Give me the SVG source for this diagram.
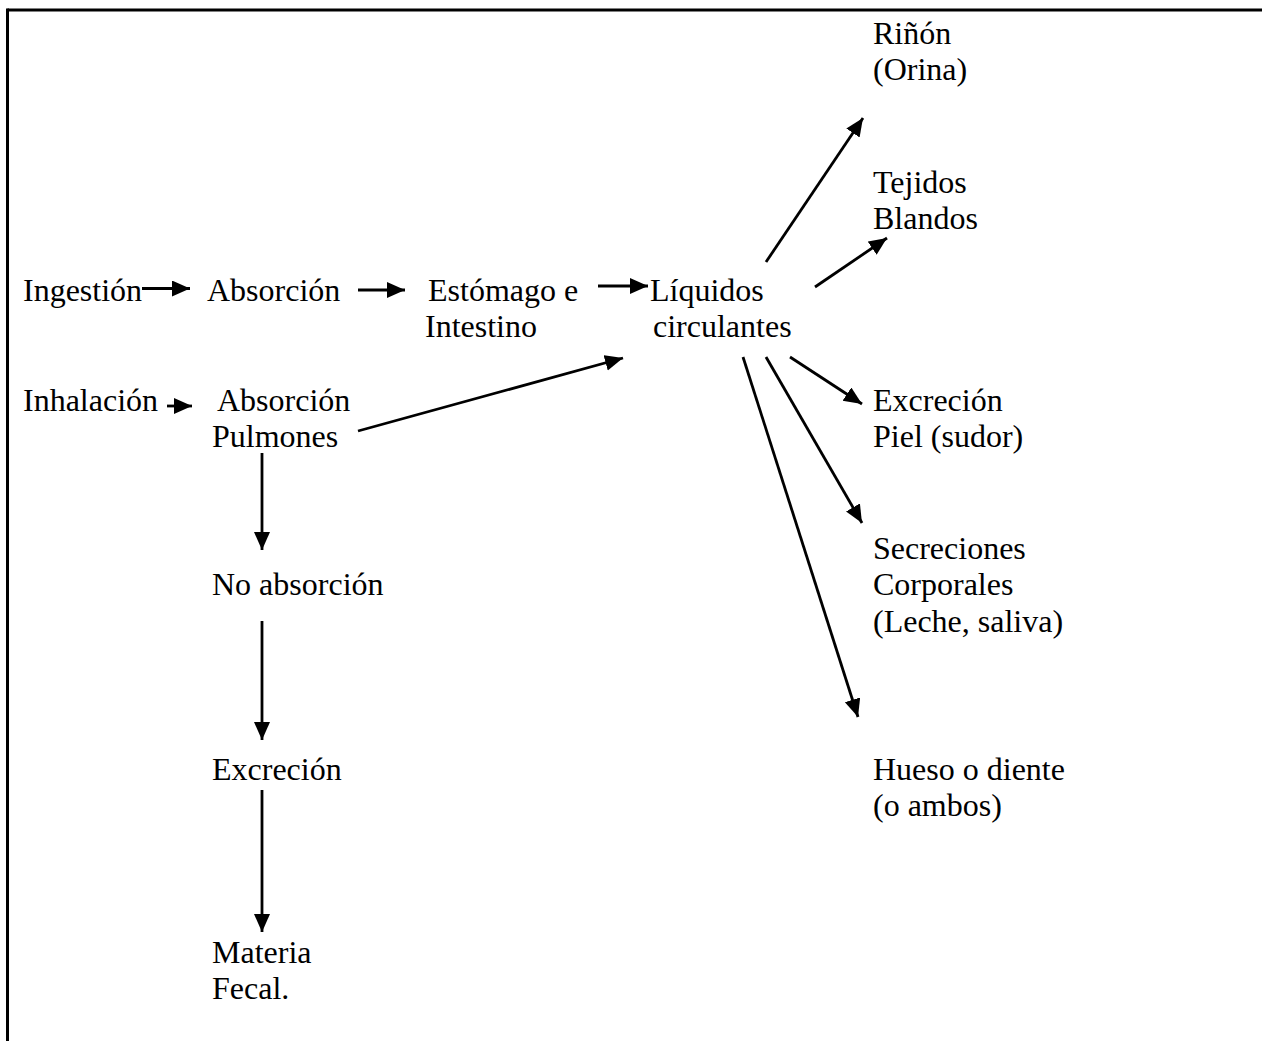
<svg xmlns="http://www.w3.org/2000/svg" width="1262" height="1041" viewBox="0 0 1262 1041">
<style>
text{font-family:"Liberation Serif","Times New Roman",serif;font-size:32px;fill:#000}
.c{stroke:#000;stroke-width:2.8;fill:none;marker-end:url(#ah)}
.b{stroke:#000;stroke-width:3;fill:none}
</style>
<defs>
<marker id="ah" markerUnits="userSpaceOnUse" markerWidth="20" markerHeight="18" refX="18" refY="8" orient="auto">
<path d="M0,0 L18,8 L0,16 z" fill="#000"/>
</marker>
</defs>
<rect width="1262" height="1041" fill="#fff"/>
<g id="border">
<line class="b" x1="7.5" y1="10" x2="1262" y2="10"/>
<line class="b" x1="7.5" y1="8.5" x2="7.5" y2="1041"/>
</g>
<g id="connectors">
<line class="c" x1="142" y1="288.5" x2="190" y2="288.5"/>
<line class="c" x1="358" y1="290" x2="405" y2="290"/>
<line class="c" x1="598" y1="286" x2="648" y2="286"/>
<line class="c" x1="167" y1="406" x2="192" y2="406"/>
<line class="c" x1="358" y1="431" x2="623" y2="358"/>
<line class="c" x1="262" y1="453" x2="262" y2="550"/>
<line class="c" x1="262" y1="621" x2="262" y2="740"/>
<line class="c" x1="262" y1="790" x2="262" y2="932"/>
<line class="c" x1="766" y1="262" x2="863" y2="118"/>
<line class="c" x1="815" y1="287" x2="887" y2="238"/>
<line class="c" x1="790" y1="357" x2="862" y2="404"/>
<line class="c" x1="766" y1="357" x2="862" y2="523"/>
<line class="c" x1="743" y1="357" x2="858" y2="717"/>
</g>
<g id="n-ingestion"><text x="23" y="301">Ingestión</text></g>
<g id="n-absorcion1"><text x="207" y="301">Absorción</text></g>
<g id="n-estomago"><text x="428" y="301">Estómago e</text><text x="425" y="337">Intestino</text></g>
<g id="n-liquidos"><text x="650" y="301">Líquidos</text><text x="653" y="337">circulantes</text></g>
<g id="n-inhalacion"><text x="23" y="411">Inhalación</text></g>
<g id="n-absorcion2"><text x="217" y="411">Absorción</text><text x="212" y="447">Pulmones</text></g>
<g id="n-noabsorcion"><text x="212" y="595">No absorción</text></g>
<g id="n-excrecion1"><text x="212" y="780">Excreción</text></g>
<g id="n-materia"><text x="212" y="963">Materia</text><text x="212" y="999">Fecal.</text></g>
<g id="n-rinon"><text x="873" y="44">Riñón</text><text x="873" y="80">(Orina)</text></g>
<g id="n-tejidos"><text x="873" y="193">Tejidos</text><text x="873" y="229">Blandos</text></g>
<g id="n-piel"><text x="873" y="411">Excreción</text><text x="873" y="447">Piel (sudor)</text></g>
<g id="n-secreciones"><text x="873" y="559">Secreciones</text><text x="873" y="595">Corporales</text><text x="873" y="632">(Leche, saliva)</text></g>
<g id="n-hueso"><text x="873" y="780">Hueso o diente</text><text x="873" y="816">(o ambos)</text></g>
</svg>
